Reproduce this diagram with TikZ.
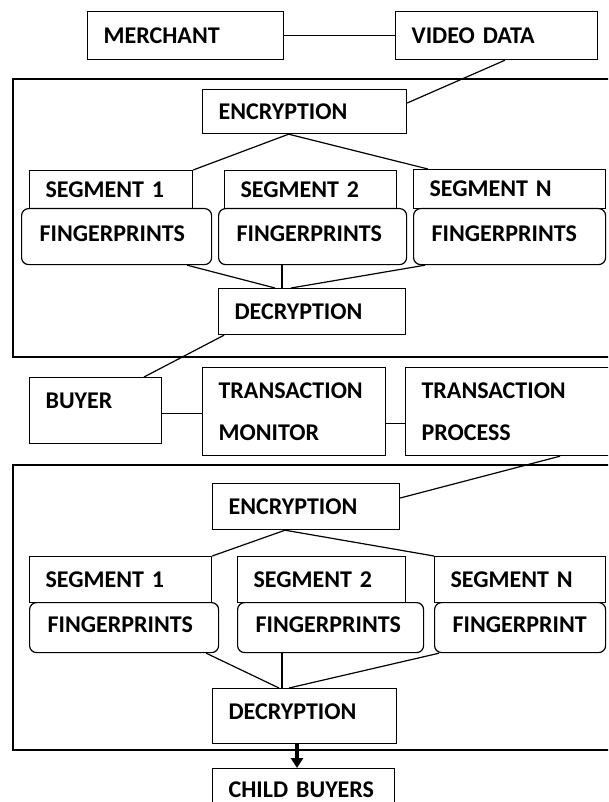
\documentclass[tikz,border=0pt]{standalone}
\usepackage{fontspec}
\setmainfont{Carlito}
\usetikzlibrary{calc,arrows.meta}
\begin{document}
\begin{tikzpicture}[x=1pt,y=-1pt,
  bx/.style={draw, line width=1.2pt, anchor=north west, inner xsep=16pt, inner ysep=0pt,
    align=left, font=\fontsize{24}{42}\selectfont\bfseries, text height=15.5pt, text depth=0pt},
  fp/.style={bx, rounded corners=7pt, inner xsep=18pt},
  ln/.style={line width=1.2pt},
  frame/.style={line width=1.2pt},
]
\useasboundingbox (0,0) rectangle (608,802);
\clip (0,0) rectangle (608,802);

% frames
\draw[frame] (13,79) rectangle (640,357);
\draw[frame] (13,465) rectangle (640,750);

% top part
\node[bx, minimum width=196pt, minimum height=48pt, text width=164pt] (merchant) at (87,11) {MERCHANT};
\node[bx, minimum width=202pt, minimum height=48pt, text width=170pt] (video) at (395,11) {VIDEO DATA};
\node[bx, minimum width=204pt, minimum height=44pt, text width=172pt] (enc1) at (202,89) {ENCRYPTION};
\node[bx, minimum width=163pt, minimum height=38pt, text width=131pt] (seg1a) at (29,170) {SEGMENT 1};
\node[bx, minimum width=172pt, minimum height=38pt, text width=140pt] (seg2a) at (224,170) {SEGMENT 2};
\node[bx, minimum width=192pt, minimum height=39pt, text width=160pt] (segNa) at (413,169) {SEGMENT N};
\node[fp, minimum width=190pt, minimum height=56pt, text width=154pt, text depth=6pt] (fp1a) at (21,208) {FINGERPRINTS};
\node[fp, minimum width=188pt, minimum height=56pt, text width=152pt, text depth=6pt] (fp2a) at (218,208) {FINGERPRINTS};
\node[fp, minimum width=192pt, minimum height=56pt, text width=156pt, text depth=6pt] (fp3a) at (413,208) {FINGERPRINTS};
\node[bx, minimum width=187pt, minimum height=46pt, text width=155pt] (dec1) at (218,288) {DECRYPTION};

% middle row
\node[bx, minimum width=132pt, minimum height=66pt, text width=100pt, text depth=20pt] (buyer) at (29,377) {BUYER};
\node[bx, minimum width=183pt, minimum height=88pt, text width=151pt, text height={}, text depth={}] (tm) at (202,367) {TRANSACTION\\MONITOR};
\node[bx, minimum width=240pt, minimum height=88pt, text width=208pt, text height={}, text depth={}] (tp) at (405,367) {TRANSACTION\\PROCESS};

% bottom part
\node[bx, minimum width=187pt, minimum height=46pt, text width=155pt] (enc2) at (212,483) {ENCRYPTION};
\node[bx, minimum width=182pt, minimum height=46pt, text width=150pt] (seg1b) at (29,556) {SEGMENT 1};
\node[bx, minimum width=168pt, minimum height=46pt, text width=136pt] (seg2b) at (237,556) {SEGMENT 2};
\node[bx, minimum width=171pt, minimum height=46pt, text width=139pt] (segNb) at (434,556) {SEGMENT N};
\node[fp, minimum width=189pt, minimum height=50pt, text width=153pt, text depth=6pt] (fp1b) at (29,602) {FINGERPRINTS};
\node[fp, minimum width=186pt, minimum height=50pt, text width=150pt, text depth=6pt] (fp2b) at (237,602) {FINGERPRINTS};
\node[fp, minimum width=171pt, minimum height=50pt, text width=135pt, text depth=6pt] (fp3b) at (434,602) {FINGERPRINT};
\node[bx, minimum width=184pt, minimum height=55pt, text width=152pt, text depth=9pt] (dec2) at (212,688) {DECRYPTION};
\node[bx, minimum width=182pt, minimum height=47pt, text width=150pt, text depth=5pt] (child) at (212,768) {CHILD BUYERS};

% connectors top
\draw[ln] (merchant.east) -- (video.west);
\draw[ln] ($(video.south west)+(110,0)$) -- ($(enc1.north east)+(0,14)$);
\draw[ln] (seg1a.north east) -- ($(enc1.south)+(-16,0)$) -- ($(segNa.north west)+(15,0)$);
\draw[ln] ($(fp1a.south east)+(-25,0)$) -- ($(dec1.north west)+(57,0)$);
\draw[ln] ($(fp2a.south west)+(64,0)$) -- ($(dec1.north west)+(64,0)$);
\draw[ln] ($(fp3a.south west)+(12,0)$) -- ($(dec1.north west)+(73,0)$);
\draw[ln] ($(dec1.south west)+(6,0)$) -- ($(buyer.north west)+(115,0)$);

% connectors middle
\draw[ln] ($(buyer.east)+(0,3)$) -- ($(tm.west)+(0,2)$);
\draw[ln] ($(tm.east)+(0,12)$) -- ($(tp.west)+(0,12)$);
\draw[ln] ($(tp.south west)+(155,0)$) -- ($(enc2.north east)+(0,15)$);

% connectors bottom
\draw[ln] (seg1b.north east) -- ($(enc2.south west)+(73,0)$) -- (segNb.north west);
\draw[ln] ($(fp1b.south east)+(-13,0)$) -- ($(dec2.north west)+(67,0)$);
\draw[ln] ($(fp2b.south west)+(45,0)$) -- ($(dec2.north west)+(70,0)$);
\draw[ln] ($(fp3b.south west)+(5,0)$) -- ($(dec2.north west)+(77,0)$);
\draw[line width=3.5pt, -{Triangle[width=12pt,length=10pt]}] ($(dec2.south west)+(85,0)$) -- ($(child.north west)+(85,0)$);
\end{tikzpicture}
\end{document}
